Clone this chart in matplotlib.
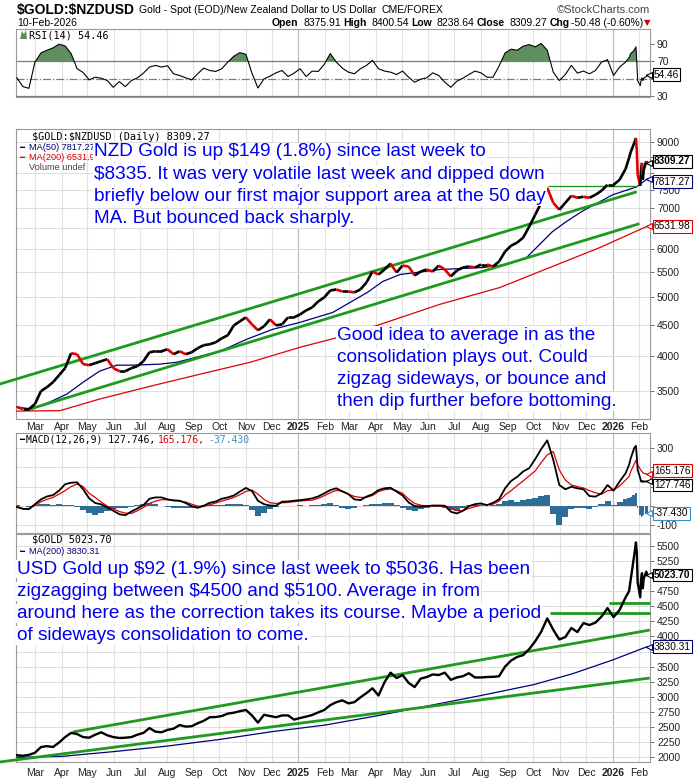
import matplotlib
matplotlib.use("Agg")
import matplotlib.pyplot as plt
import matplotlib.dates as mdates
from matplotlib.collections import LineCollection
from matplotlib.patches import Polygon
from matplotlib.ticker import NullLocator
import numpy as np
import pandas as pd

plt.rcParams["text.parse_math"] = False  # lots of "$" in the texts

W, H = 700, 780
SANS = ["Liberation Sans", "DejaVu Sans"]
MONO = ["DejaVu Sans Mono", "DejaVu Sans"]

GREEN = "#1e9a1e"
NAVY = "#00007a"
RED = "#e00000"
BLUE_TXT = "#0000ee"
HIST_C = "#2c6e98"
HIST_TXT = "#3a8fc4"

# ---- values: weekly closes, then the last sessions day by day ----
weeks = pd.date_range("2024-02-09", periods=102, freq="7D")
last_days = pd.to_datetime([
    "2026-01-20", "2026-01-22", "2026-01-26", "2026-01-28", "2026-01-29", "2026-01-30",
    "2026-02-02", "2026-02-03", "2026-02-04", "2026-02-05", "2026-02-06", "2026-02-09",
    "2026-02-10"])
dates = weeks.append(last_days)

nzd_close = [
    3295, 3270, 3270, 3332, 3500, 3553, 3620, 3717, 3817, 4039,
    4024, 3876, 3861, 3890, 3920, 3949, 3817, 3775, 3775, 3817,
    3846, 3920, 4054, 4070, 4070, 4101, 4024, 4070, 4024, 4054,
    4117, 4164, 4179, 4211, 4275, 4324, 4489, 4558, 4627, 4506,
    4406, 4473, 4593, 4489, 4506, 4627, 4627, 4680, 4751, 4805,
    4915, 4990, 5123, 5143, 5104, 5104, 5085, 5143, 5280, 5504,
    5442, 5546, 5673, 5484, 5630, 5610, 5422, 5504, 5546, 5504,
    5630, 5546, 5402, 5525, 5588, 5610, 5588, 5652, 5652, 5610,
    5716, 5936, 6071, 6141, 6258, 6523, 6825, 7141, 7557, 7141,
    6955, 7141, 7332, 7277, 7305, 7277, 7360, 7473, 7644, 7644,
    7789, 8120,
    8463, 8657, 8956, 9127, 8723, 7937, 7614, 8088, 8305, 7789, 8088, 8360, 8309.27]

usd_close = [
    2030, 2020, 2035, 2070, 2165, 2180, 2166, 2240, 2330, 2400,
    2380, 2330, 2320, 2370, 2410, 2360, 2330, 2315, 2320, 2330,
    2370, 2400, 2480, 2420, 2410, 2450, 2470, 2530, 2505, 2510,
    2560, 2600, 2660, 2663, 2680, 2720, 2735, 2760, 2780, 2690,
    2570, 2700, 2680, 2660, 2690, 2690, 2620, 2647, 2670, 2697,
    2740, 2780, 2860, 2910, 2940, 2890, 2910, 2990, 3060, 3140,
    3020, 3240, 3400, 3310, 3360, 3230, 3160, 3300, 3327, 3370,
    3360, 3400, 3280, 3320, 3340, 3390, 3320, 3320, 3327, 3330,
    3340, 3500, 3600, 3660, 3690, 3790, 3920, 4080, 4300, 4110,
    3950, 3990, 4140, 4073, 4222, 4190, 4230, 4330, 4470, 4320,
    4440, 4650,
    4750, 4950, 5350, 5560, 5400, 4900, 4650, 4950, 5050, 4800, 4960, 5075, 5023.70]

rsi = [
    50.8, 40.8, 38.8, 68.8, 79.2, 82.3, 85.0, 89.2, 87.3, 78.5,
    61.2, 56.9, 48.5, 51.5, 50.4, 47.7, 40.0, 46.5, 40.8, 47.7,
    50.8, 56.2, 63.1, 65.0, 63.1, 64.6, 55.4, 53.5, 50.8, 48.5,
    55.4, 61.9, 59.2, 58.1, 61.2, 68.8, 75.4, 79.6, 77.7, 56.2,
    39.2, 49.6, 52.7, 56.5, 59.2, 52.3, 56.2, 61.2, 52.3, 58.5,
    58.1, 66.2, 78.5, 68.8, 61.9, 57.3, 55.4, 61.2, 65.0, 70.8,
    61.2, 58.5, 57.3, 54.6, 58.5, 51.5, 45.8, 49.2, 50.8, 56.5,
    53.5, 45.8, 40.0, 46.9, 50.4, 54.6, 58.5, 56.5, 51.5, 51.5,
    64.2, 79.2, 83.5, 82.3, 86.9, 88.8, 86.2, 90.0, 82.3, 57.3,
    47.7, 54.6, 65.0, 56.2, 58.5, 55.4, 59.2, 68.8, 71.5, 53.5,
    63.1, 68.8,
    73.8, 78.5, 82.3, 86.2, 68.8, 47.7, 41.9, 47.7, 50.8, 47.7, 50.4, 52.3, 54.46]

macd = [
    -3, -14, -16, 10, 35, 50, 57, 80, 113, 121,
    123, 87, 40, 16, 9, -7, -24, -42, -47, -28,
    -12, 5, 38, 45, 45, 35, 29, 28, 16, 0,
    -9, 2, 17, 24, 38, 45, 55, 75, 94, 78,
    28, 10, 3, 2, 23, 24, 28, 31, 35, 40,
    50, 66, 83, 92, 76, 62, 35, 31, 49, 61,
    83, 92, 95, 75, 55, 19, 0, -2, 0, 3,
    3, 2, -29, -38, -24, 0, 10, 14, 5, 17,
    35, 92, 130, 151, 179, 196, 243, 295, 340, 239,
    109, 87, 100, 92, 87, 52, 49, 66, 109, 80,
    127, 170,
    213, 248, 300, 312, 256, 187, 144, 127, 130, 125, 128, 127, 127.746]

signal = [
    -7, -14, -12, 3, 23, 35, 45, 62, 80, 101,
    114, 101, 66, 45, 21, 0, -14, -28, -36, -38,
    -24, -7, 14, 26, 33, 33, 31, 26, 21, 10,
    0, -2, 7, 16, 26, 35, 45, 59, 76, 83,
    62, 35, 17, 14, 17, 19, 23, 26, 29, 31,
    40, 54, 69, 81, 78, 62, 50, 45, 45, 55,
    75, 85, 88, 80, 66, 36, 14, 5, 0, 0,
    0, 0, -10, -23, -24, -12, -3, 5, 7, 10,
    26, 57, 80, 106, 130, 156, 182, 225, 265, 282,
    187, 135, 109, 101, 94, 80, 69, 62, 80, 83,
    104, 135,
    153, 179, 218, 236, 231, 213, 191, 184, 179, 173, 170, 166, 165.176]

hist = [
    5, 3, -3, 8, 10, 10, 8, 10, 8, 5,
    -5, -20, -35, -45, -35, -25, -15, -12, -10, -5,
    5, 12, 15, 10, 3, -3, -8, -10, -12, -8,
    -3, 5, 8, 5, 8, 10, 10, 12, 8, -20,
    -50, -35, -15, -5, 3, 3, 2, 5, 3, 5,
    8, 12, 15, 8, -10, -15, -10, 2, 8, 12,
    10, 15, 18, 5, -10, -20, -25, -15, -8, 3,
    3, -8, -20, -25, -10, 5, 8, 3, 2, 5,
    12, 25, 30, 22, 30, 35, 40, 50, 55, -40,
    -100, -55, -15, -8, -10, -15, -5, 10, 25, 5,
    20, 35,
    40, 45, 55, 70, 40, -10, -45, -55, -50, -52, -45, -40, -37.43]

# moving averages (read at a coarser step, they are smooth)
nzd_ma50_dates = ["2024-02-09", "2024-02-27", "2024-03-18", "2024-04-07", "2024-04-26",
                  "2024-05-15", "2024-06-04", "2024-06-23", "2024-07-24", "2024-08-13",
                  "2024-09-09", "2024-10-02", "2024-11-02", "2024-12-02", "2025-01-03",
                  "2025-02-10", "2025-03-02", "2025-03-22", "2025-04-09", "2025-04-29",
                  "2025-06-14", "2025-08-03", "2025-08-31", "2025-09-23", "2025-10-08",
                  "2025-10-23", "2025-11-08", "2025-11-27", "2025-12-17", "2026-01-01",
                  "2026-01-29", "2026-02-10"]
nzd_ma50 = [3295, 3270, 3357, 3460, 3620, 3774, 3861, 3861, 3876, 3904,
            3994, 4070, 4259, 4422, 4541, 4715, 4897, 5085, 5301, 5442,
            5546, 5588, 5652, 5803, 6095, 6401, 6647, 6920, 7168, 7360,
            7586, 7817.27]

nzd_ma200_dates = ["2024-02-09", "2024-03-30", "2024-05-15", "2024-07-13", "2024-09-09",
                   "2024-11-06", "2025-01-03", "2025-03-02", "2025-04-06", "2025-06-14",
                   "2025-08-23", "2025-10-20", "2025-12-17", "2026-02-10"]
nzd_ma200 = [3245, 3250, 3396, 3565, 3732, 3904, 4132, 4340, 4506, 4860,
             5181, 5588, 6026, 6531.98]

usd_ma200_dates = ["2024-02-09", "2024-04-01", "2024-06-01", "2024-08-01", "2024-10-01",
                   "2024-12-01", "2025-02-01", "2025-04-01", "2025-06-01", "2025-08-01",
                   "2025-10-01", "2025-11-15", "2026-01-01", "2026-02-10"]
usd_ma200 = [1995, 2010, 2090, 2180, 2290, 2420, 2530, 2680, 2850, 3020,
             3200, 3380, 3610, 3830.31]

# hand-drawn trend lines: (start date, start price, end date, end price, width)
nzd_lines = [("2024-01-20", 3594, "2026-01-29", 7444, 2.0),
             ("2024-02-24", 3270, "2026-02-01", 6597, 2.0),
             ("2025-10-18", 7617, "2026-01-29", 7617, 1.0)]
usd_lines = [("2024-01-20", 1917, "2026-02-13", 3310, 2.0),
             ("2024-04-14", 2415, "2026-02-13", 4106, 2.0),
             ("2025-10-20", 4390, "2026-02-13", 4390, 2.0),
             ("2025-12-28", 4555, "2026-02-13", 4555, 2.0)]

nzd_note = ["NZD Gold is up $149 (1.8%) since last week to",
            "$8335. It was very volatile last week and dipped down",
            "briefly below our first major support area at the 50 day",
            "MA. But bounced back sharply."]
nzd_note2 = ["Good idea to average in as the",
             "consolidation plays out. Could",
             "zigzag sideways, or bounce and",
             "then dip further before bottoming."]
usd_note = ["USD Gold up $92 (1.9%) since last week to $5036. Has been",
            "zigzagging between $4500 and $5100. Average in from",
            "around here as the correction takes its course. Maybe a period",
            "of sideways consolidation to come."]

month_starts = pd.date_range("2024-03-01", "2026-02-01", freq="MS")
month_labels = [str(d.year) if d.month == 1 else d.strftime("%b") for d in month_starts]
X0, X1 = pd.Timestamp("2024-02-08"), pd.Timestamp("2026-02-13 08:00")


fig = plt.figure(figsize=(W / 100, H / 100), dpi=100)
renderer = fig.canvas.get_renderer()


def px_axes(top, bottom):
    return fig.add_axes([16 / W, 1 - bottom / H, (650 - 16) / W, (bottom - top) / H])


def ftext(x, y, s, **kw):
    # text placed in pixel coordinates of the figure (origin at top left)
    kw.setdefault("va", "center")
    return fig.text(x / W, 1 - y / H, s, **kw)


def flow(x, y, pieces, right=False):
    # lay out a row of differently styled texts one after the other
    if right:
        for s, kw, gap in reversed(pieces):
            t = ftext(x, y, s, ha="right", **kw)
            x -= t.get_window_extent(renderer).width + gap
    else:
        for s, kw, gap in pieces:
            t = ftext(x, y, s, **kw)
            x += t.get_window_extent(renderer).width + gap


def style_panel(ax, ticks, ylim, log=False, hgrid=True):
    if log:
        ax.set_yscale("log")
    ax.set_xlim(X0, X1)
    ax.set_ylim(*ylim)
    ax.set_yticks(ticks)
    ax.set_yticklabels([str(t) for t in ticks], family=SANS)
    ax.yaxis.set_minor_locator(NullLocator())
    ax.yaxis.tick_right()
    ax.tick_params(axis="y", length=3, width=0.6, pad=2, labelsize=7.5,
                   color="#555555", labelcolor="#222222")
    ax.set_xticks(month_starts)
    ax.tick_params(axis="x", length=0, labelbottom=False)
    for s in ax.spines.values():
        s.set_color("#9a9a9a")
        s.set_linewidth(0.8)
    if hgrid:
        ax.grid(axis="y", color="#dddddd", lw=0.7)
    for d in month_starts:
        ax.axvline(d, color="#b8b8b8" if d.month == 1 else "#e2e2e2", lw=0.8, zorder=0)
    ax.set_axisbelow(True)


def date_labels(ax, pad):
    ax.set_xticklabels(month_labels)
    ax.tick_params(axis="x", labelbottom=True, labelsize=7.5, pad=pad, labelcolor="#222222")
    for lbl in ax.get_xticklabels():
        lbl.set_family(SANS)
        if lbl.get_text().isdigit():
            lbl.set_fontweight("bold")


def value_tags(ax, tags):
    # last-value boxes on the right axis; tick labels sitting under a box are dropped
    # each tag: (value, text, edge colour, bold, vertical nudge in points)
    tr = ax.get_yaxis_transform()
    tag_px = [ax.transData.transform((0, tg[0]))[1] for tg in tags]
    labels = []
    for t in ax.get_yticks():
        ty = ax.transData.transform((0, t))[1]
        labels.append("" if any(abs(ty - p) < 9 for p in tag_px) else str(int(t)))
    ax.set_yticklabels(labels, family=SANS)
    for v, txt, ec, bold, dy in tags:
        ax.plot([0.998], [v], marker="<", ms=5, mfc="white", mec=ec, mew=0.8,
                transform=tr, clip_on=False, zorder=6)
        ax.annotate(txt, xy=(1.006, v), xycoords=tr, xytext=(0, dy),
                    textcoords="offset points", ha="left", va="center", fontsize=7.3,
                    family=SANS, fontweight="bold" if bold else "normal",
                    annotation_clip=False, zorder=7,
                    bbox=dict(boxstyle="square,pad=0.12", fc="white", ec=ec, lw=0.8))


def trend_lines(ax, lines):
    for d0, p0, d1, p1, lw in lines:
        ax.plot(pd.to_datetime([d0, d1]), [p0, p1], color=GREEN, lw=lw,
                solid_capstyle="butt", clip_on=False, zorder=4)


# ---------------- RSI ----------------
ax_rsi = px_axes(29, 97)
style_panel(ax_rsi, [30, 50, 70, 90], (28.9, 106.6), hgrid=False)
rsi_arr = np.array(rsi)
ax_rsi.axhline(70, color="#7a7a7a", lw=0.9)
ax_rsi.axhline(30, color="#7a7a7a", lw=0.9)
ax_rsi.axhline(50, color="#7a7a7a", lw=0.9, ls="-.")
ax_rsi.fill_between(dates, rsi_arr, 70, where=rsi_arr >= 70, interpolate=True,
                    color="#5f8f5f", lw=0, zorder=2)
ax_rsi.plot(dates, rsi_arr, color="black", lw=0.8, zorder=3)
value_tags(ax_rsi, [(54.46, "54.46", "black", False, 0)])

# ---------------- NZD price ----------------
ax_p = px_axes(129, 419)
style_panel(ax_p, list(range(3500, 9001, 500)), (3149, 9442), log=True)
xs = mdates.date2num(dates)
pts = np.column_stack([xs, nzd_close])
segs = np.stack([pts[:-1], pts[1:]], axis=1)
seg_colors = [RED if b < a else "black" for a, b in zip(nzd_close[:-1], nzd_close[1:])]
ax_p.add_collection(LineCollection(segs, colors=seg_colors, linewidths=1.9, zorder=5))
ax_p.plot(pd.to_datetime(nzd_ma50_dates), nzd_ma50, color=NAVY, lw=0.9, zorder=3)
ax_p.plot(pd.to_datetime(nzd_ma200_dates), nzd_ma200, color=RED, lw=0.9, zorder=3)
trend_lines(ax_p, nzd_lines)
date_labels(ax_p, 2)
value_tags(ax_p, [(8309.27, "8309.27", "black", True, 1),
                  (7817.27, "7817.27", NAVY, False, -2),
                  (6531.98, "6531.98", RED, False, 0)])

# ---------------- MACD ----------------
ax_m = px_axes(433, 533)
style_panel(ax_m, [-100, 0, 100, 200, 300], (-139, 378))
widths = np.diff(xs, prepend=xs[0] - 7)
ax_m.bar(dates, hist, width=widths, color=HIST_C, lw=0, zorder=2)
ax_m.plot(dates, signal, color=RED, lw=0.9, zorder=3)
ax_m.plot(dates, macd, color="black", lw=1.3, zorder=4)
value_tags(ax_m, [(165.176, "165.176", RED, False, 2.5),
                  (127.746, "127.746", "black", False, -2.5),
                  (-37.43, "-37.430", HIST_TXT, False, 0)])

# ---------------- USD price ----------------
ax_u = px_axes(534, 762)
style_panel(ax_u, list(range(2000, 5501, 250)), (1917, 5700))
ax_u.plot(dates, usd_close, color="black", lw=1.7, zorder=5)
ax_u.plot(pd.to_datetime(usd_ma200_dates), usd_ma200, color=NAVY, lw=0.9, zorder=3)
trend_lines(ax_u, usd_lines)
date_labels(ax_u, 4)
value_tags(ax_u, [(5023.70, "5023.70", "black", True, 0),
                  (3830.31, "3830.31", NAVY, False, 0)])

# ---------------- header ----------------
flow(17, 10, [("$GOLD:$NZDUSD", dict(family=SANS, fontsize=10, fontweight="bold"), 4),
              ("Gold - Spot (EOD)/New Zealand Dollar to US Dollar",
               dict(family=SANS, fontsize=7.5), 5),
              ("CME/FOREX", dict(family=SANS, fontsize=7.5), 0)])
ftext(650, 10, "\u00a9StockCharts.com", family=SANS, fontsize=8, color="#444444", ha="right")
ftext(17, 23, "10-Feb-2026", family=SANS, fontsize=7.5)
b = dict(family=SANS, fontsize=7.5, fontweight="bold")
r = dict(family=SANS, fontsize=7.5)
flow(650, 23, [("Open", b, 2), ("8375.91", r, 5), ("High", b, 2), ("8400.54", r, 5),
               ("Low", b, 2), ("8238.64", r, 5), ("Close", b, 2), ("8309.27", r, 5),
               ("Chg", b, 2), ("-50.48 (-0.60%)", r, 2),
               ("\u25bc", dict(family=["DejaVu Sans"], fontsize=6, color="#cc0000"), 0)],
     right=True)

# ---------------- panel legends ----------------
fig.patches.append(Polygon([[20 / W, 1 - 39 / H], [22 / W, 1 - 31 / H], [24 / W, 1 - 34 / H],
                            [26 / W, 1 - 30 / H], [27 / W, 1 - 39 / H]],
                           closed=True, transform=fig.transFigure, fc="#5f8f5f", ec="none"))
ftext(29, 35, "RSI(14) 54.46", family=MONO, fontsize=7.3)
ftext(32, 137, "$GOLD:$NZDUSD (Daily) 8309.27", family=MONO, fontsize=7.3)
ftext(19, 148, "\u2501", family=["DejaVu Sans"], fontsize=6, color=NAVY)
ftext(29, 148, "MA(50) 7817.27", family=SANS, fontsize=6.6, color=NAVY)
ftext(19, 158, "\u2501", family=["DejaVu Sans"], fontsize=6, color=RED)
ftext(29, 158, "MA(200) 6531.98", family=SANS, fontsize=6.6, color=RED)
ftext(29, 168, "Volume undef", family=SANS, fontsize=6.6, color="#444444")
flow(19, 440, [("\u2501", dict(family=["DejaVu Sans"], fontsize=6, color="black"), 2),
               ("MACD(12,26,9) 127.746,", dict(family=MONO, fontsize=7.0), 3),
               ("165.176,", dict(family=MONO, fontsize=7.0, color=RED), 3),
               ("-37.430", dict(family=MONO, fontsize=7.0, color=HIST_TXT), 0)])
ftext(32, 540, "$GOLD 5023.70", family=MONO, fontsize=7.3)
ftext(19, 552, "\u2501", family=["DejaVu Sans"], fontsize=6, color=NAVY)
ftext(29, 552, "MA(200) 3830.31", family=SANS, fontsize=6.6, color=NAVY)

# ---------------- blue notes (opaque like the original annotations) ----------------
box = dict(boxstyle="square,pad=0.05", fc="white", ec="none")
for i, line in enumerate(nzd_note):
    ftext(94, 152 + 22.2 * i, line, family=SANS, fontsize=13.7, color=BLUE_TXT, bbox=box)
for i, line in enumerate(nzd_note2):
    ftext(337, 335 + 22.2 * i, line, family=SANS, fontsize=13.7, color=BLUE_TXT, bbox=box)
for i, line in enumerate(usd_note):
    ftext(17, 569 + 22.3 * i, line, family=SANS, fontsize=13.7, color=BLUE_TXT, bbox=box)

fig.savefig("out.png", dpi=100)
